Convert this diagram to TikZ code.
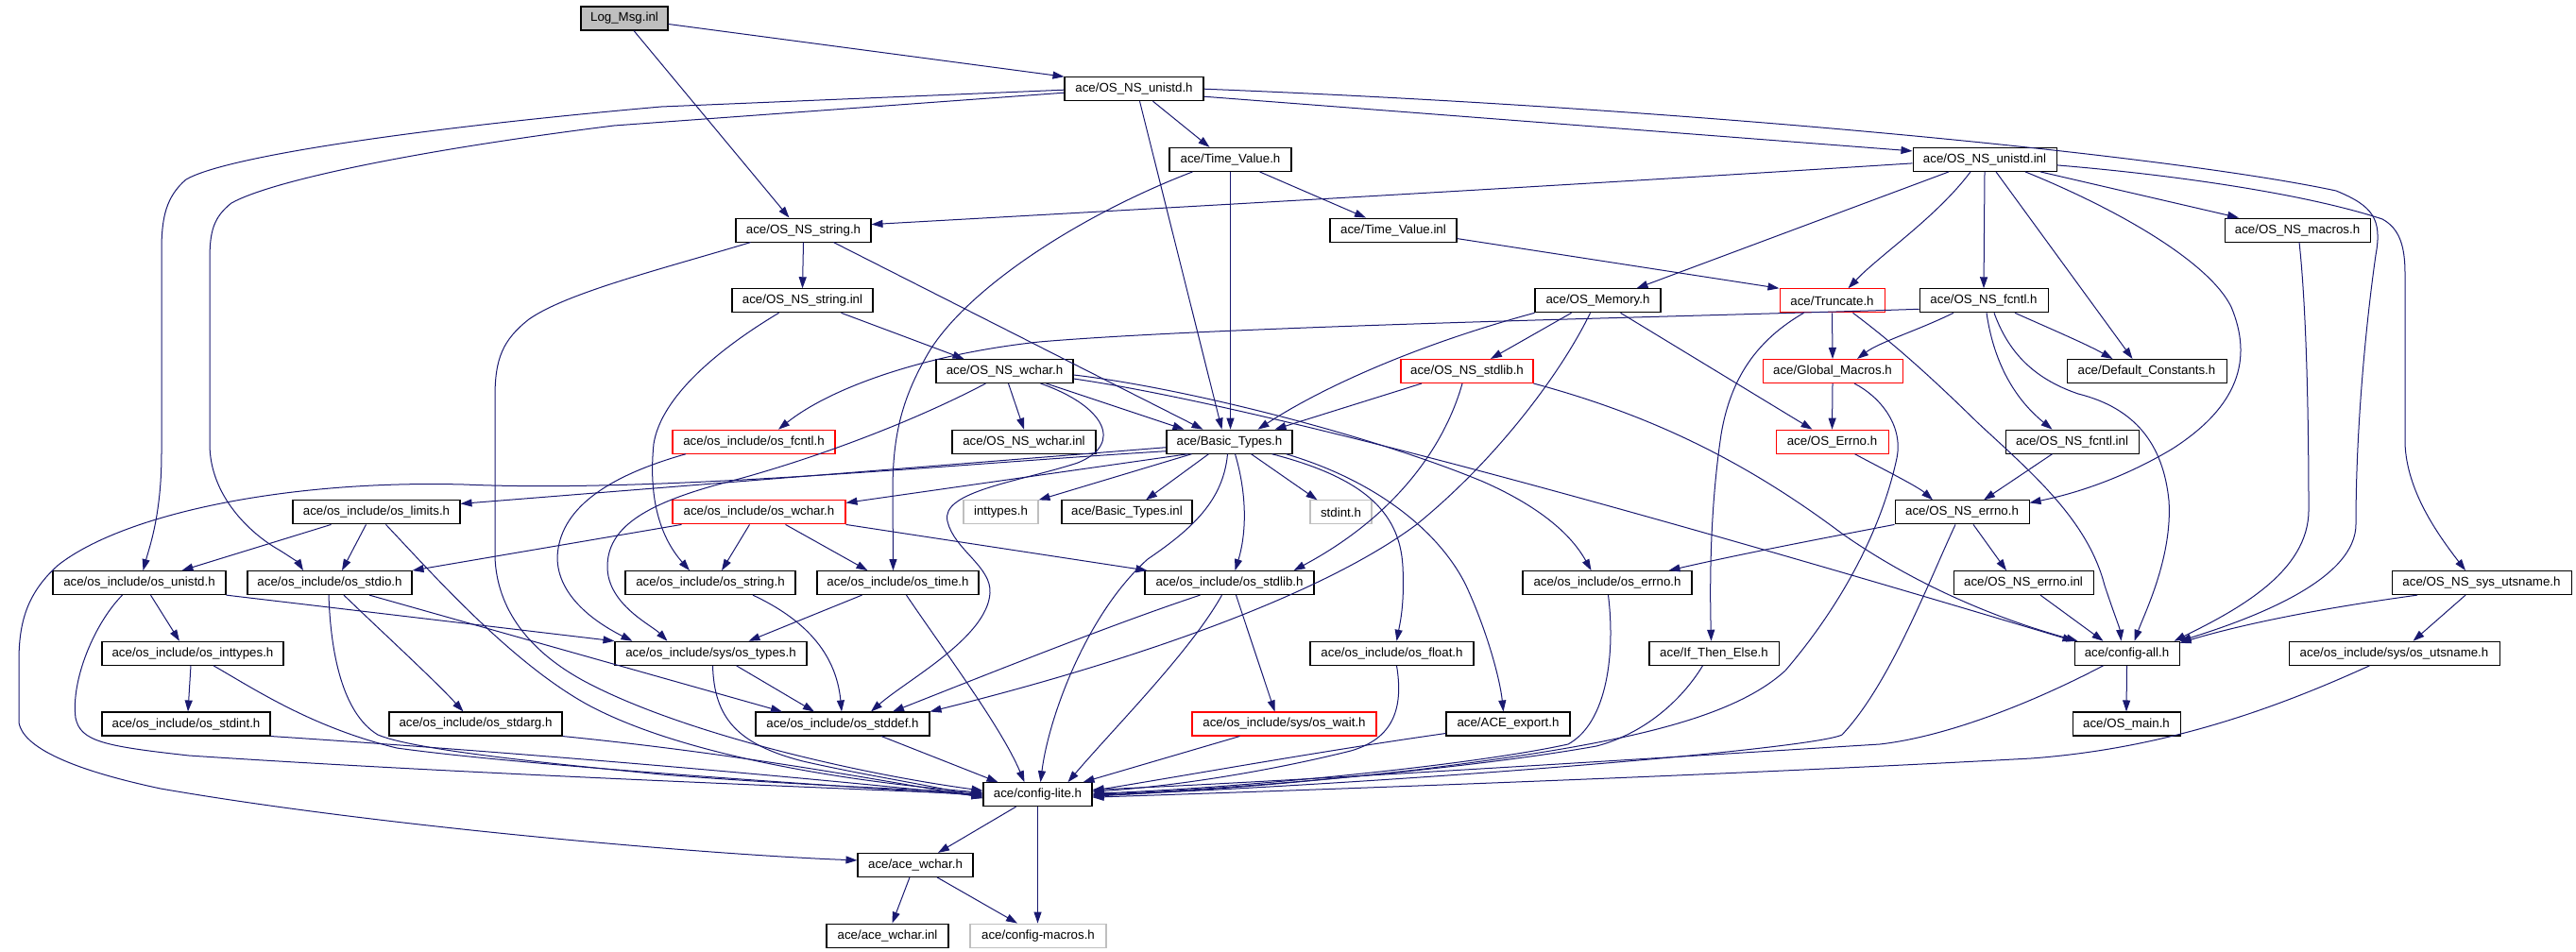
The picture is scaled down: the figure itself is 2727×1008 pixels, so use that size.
\documentclass[tikz,border=0pt]{standalone}
\usepackage{fontspec}
\setmainfont{Liberation Sans}
\usetikzlibrary{arrows.meta}
\definecolor{edgecol}{HTML}{191970}
\definecolor{lgrey}{HTML}{BFBFBF}
\tikzset{
  nb/.style={draw=black, fill=white, line width=1.05pt, minimum height=25pt, inner sep=0pt, font=\fontsize{13.3}{15}\selectfont},
  nr/.style={nb, draw=red},
  ng/.style={nb, draw=lgrey},
  edg/.style={draw=edgecol, line width=1pt, -{Triangle[length=12pt,width=8pt]}, fill=none},
}
\begin{document}
\begin{tikzpicture}[x=1pt,y=-1pt]
\useasboundingbox (0,0) rectangle (2727,1008);
% ---------------- nodes ----------------
\node[nb, fill=lgrey, minimum width=92pt] (LogMsg) at (661,19.5) {Log\_Msg.inl};
\node[nb, minimum width=147pt] (unistdH) at (1200.5,94.2) {ace/OS\_NS\_unistd.h};
\node[nb, minimum width=129pt] (TimeValueH) at (1302.5,168.9) {ace/Time\_Value.h};
\node[nb, minimum width=152pt] (unistdInl) at (2101,168.9) {ace/OS\_NS\_unistd.inl};
\node[nb, minimum width=143pt] (stringH) at (850.5,243.6) {ace/OS\_NS\_string.h};
\node[nb, minimum width=134pt] (TimeValueInl) at (1475,243.6) {ace/Time\_Value.inl};
\node[nb, minimum width=154pt] (macrosH) at (2432,243.6) {ace/OS\_NS\_macros.h};
\node[nb, minimum width=149pt] (stringInl) at (849.5,318.3) {ace/OS\_NS\_string.inl};
\node[nb, minimum width=133pt] (OSMemory) at (1691.5,318.3) {ace/OS\_Memory.h};
\node[nr, minimum width=111pt] (Truncate) at (1939.5,318.3) {ace/Truncate.h};
\node[nb, minimum width=136pt] (fcntlH) at (2100,318.3) {ace/OS\_NS\_fcntl.h};
\node[nb, minimum width=145pt] (wcharH) at (1063.5,393) {ace/OS\_NS\_wchar.h};
\node[nr, minimum width=140pt] (NSstdlib) at (1553,393) {ace/OS\_NS\_stdlib.h};
\node[nr, minimum width=148pt] (GlobalMacros) at (1940,393) {ace/Global\_Macros.h};
\node[nb, minimum width=169pt] (DefaultConst) at (2272.5,393) {ace/Default\_Constants.h};
\node[nr, minimum width=172pt] (osfcntl) at (798,467.7) {ace/os\_include/os\_fcntl.h};
\node[nb, minimum width=152pt] (wcharInl) at (1084,467.7) {ace/OS\_NS\_wchar.inl};
\node[nb, minimum width=133pt] (BasicTypes) at (1301.5,467.7) {ace/Basic\_Types.h};
\node[nr, minimum width=119pt] (OSErrno) at (1939.5,467.7) {ace/OS\_Errno.h};
\node[nb, minimum width=141pt] (fcntlInl) at (2193.5,467.7) {ace/OS\_NS\_fcntl.inl};
\node[nb, minimum width=177pt] (oslimits) at (398.5,542.4) {ace/os\_include/os\_limits.h};
\node[nr, minimum width=183pt] (oswchar) at (803.5,542.4) {ace/os\_include/os\_wchar.h};
\node[ng, minimum width=79pt] (inttypes) at (1059.5,542.4) {inttypes.h};
\node[nb, minimum width=138pt] (BasicTypesInl) at (1193,542.4) {ace/Basic\_Types.inl};
\node[ng, minimum width=65pt] (stdint) at (1419.5,542.4) {stdint.h};
\node[nb, minimum width=142pt] (NSerrno) at (2077,542.4) {ace/OS\_NS\_errno.h};
\node[nb, minimum width=183pt] (osunistd) at (147.5,617.1) {ace/os\_include/os\_unistd.h};
\node[nb, minimum width=174pt] (osstdio) at (349,617.1) {ace/os\_include/os\_stdio.h};
\node[nb, minimum width=180pt] (osstring) at (752,617.1) {ace/os\_include/os\_string.h};
\node[nb, minimum width=171pt] (ostime) at (950.5,617.1) {ace/os\_include/os\_time.h};
\node[nb, minimum width=179pt] (osstdlib) at (1301.5,617.1) {ace/os\_include/os\_stdlib.h};
\node[nb, minimum width=179pt] (oserrno) at (1701.5,617.1) {ace/os\_include/os\_errno.h};
\node[nb, minimum width=148pt] (NSerrnoInl) at (2142,617.1) {ace/OS\_NS\_errno.inl};
\node[nb, minimum width=190pt] (sysutsname) at (2627,617.1) {ace/OS\_NS\_sys\_utsname.h};
\node[nb, minimum width=192pt] (osinttypes) at (204,691.8) {ace/os\_include/os\_inttypes.h};
\node[nb, minimum width=203pt] (ostypes) at (752.5,691.8) {ace/os\_include/sys/os\_types.h};
\node[nb, minimum width=173pt] (osfloat) at (1473.5,691.8) {ace/os\_include/os\_float.h};
\node[nb, minimum width=137pt] (ifthen) at (1814.5,691.8) {ace/If\_Then\_Else.h};
\node[nb, minimum width=111pt] (configall) at (2251.5,691.8) {ace/config-all.h};
\node[nb, minimum width=223pt] (osutsname) at (2534.5,691.8) {ace/os\_include/sys/os\_utsname.h};
\node[nb, minimum width=178pt] (osstdint) at (197,766.5) {ace/os\_include/os\_stdint.h};
\node[nb, minimum width=183pt] (osstdarg) at (503.5,766.5) {ace/os\_include/os\_stdarg.h};
\node[nb, minimum width=184pt] (osstddef) at (892,766.5) {ace/os\_include/os\_stddef.h};
\node[nr, minimum width=195pt] (oswait) at (1359.5,766.5) {ace/os\_include/sys/os\_wait.h};
\node[nb, minimum width=131pt] (aceexport) at (1596.5,766.5) {ace/ACE\_export.h};
\node[nb, minimum width=114pt] (osmain) at (2251,766.5) {ace/OS\_main.h};
\node[nb, minimum width=115pt] (configlite) at (1098.5,841.2) {ace/config-lite.h};
\node[nb, minimum width=122pt] (acewchar) at (969,915.9) {ace/ace\_wchar.h};
\node[nb, minimum width=129pt] (acewcharinl) at (939.5,990.6) {ace/ace\_wchar.inl};
\node[ng, minimum width=144pt] (configmacros) at (1099,990.6) {ace/config-macros.h};
% ---------------- edges ----------------
% Log_Msg.inl
\draw[edg] ([yshift=-6]LogMsg.east) -- (unistdH.north west);
\draw[edg] ([xshift=10]LogMsg.south) -- ([xshift=-15]stringH.north);
% OS_NS_unistd.h
\draw[edg] ([xshift=20]unistdH.south) -- ([xshift=-22]TimeValueH.north);
\draw[edg] ([xshift=6]unistdH.south) -- ([xshift=-8]BasicTypes.north);
\draw[edg] ([yshift=-8]unistdH.east) -- ([yshift=9]unistdInl.west);
\draw[edg] (unistdH.east) .. controls (1800,115) and (2300,165) .. (2473,202) .. controls (2512,218) and (2522,232) .. (2515,270) .. controls (2505,340) and (2494,450) .. (2494,555) .. controls (2494,610) and (2400,650) .. (configall.north east);
\draw[edg] ([yshift=-1]unistdH.west) -- (700,113) .. controls (450,135) and (240,165) .. (197,190) .. controls (176,208) and (171,230) .. (171,265) -- (171,480) .. controls (171,545) and (158,580) .. ([xshift=4]osunistd.north);
\draw[edg] ([yshift=-4]unistdH.west) -- (650,133) .. controls (450,158) and (290,190) .. (245,215) .. controls (226,230) and (222,245) .. (222,275) -- (222,470) .. controls (222,525) and (265,565) .. (295,582) .. controls (308,590) and (316,596) .. ([xshift=-28]osstdio.north);
% OS_NS_unistd.inl
\draw[edg] ([yshift=-6]unistdInl.east) .. controls (2300,185) and (2440,205) .. (2522,232) .. controls (2540,242) and (2546,260) .. (2546,290) -- (2546,470) .. controls (2548,520) and (2580,565) .. ([xshift=-17]sysutsname.north);
\draw[edg] ([yshift=-4]unistdInl.west) .. controls (1600,200) and (1200,222) .. ([yshift=6]stringH.east);
\draw[edg] ([xshift=-38]unistdInl.south) -- ([xshift=41]OSMemory.north);
\draw[edg] ([xshift=-15]unistdInl.south) .. controls (2050,230) and (1990,270) .. ([xshift=17]Truncate.north);
\draw[edg] (unistdInl.south) -- (fcntlH.north);
\draw[edg] ([xshift=12]unistdInl.south) -- ([xshift=-15]DefaultConst.north);
\draw[edg] ([xshift=59]unistdInl.south) -- ([xshift=-62]macrosH.north);
\draw[edg] ([xshift=43]unistdInl.south) .. controls (2250,225) and (2340,280) .. (2362,325) .. controls (2385,380) and (2370,430) .. (2300,475) .. controls (2250,505) and (2200,522) .. ([yshift=10]NSerrno.east);
% Time_Value.h
\draw[edg] ([xshift=31]TimeValueH.south) -- ([xshift=-29]TimeValueInl.north);
\draw[edg] (TimeValueH.south) -- (TimeValueH.south |- BasicTypes.north);
\draw[edg] ([xshift=-40]TimeValueH.south) .. controls (1150,225) and (1030,300) .. (985,370) .. controls (955,420) and (945,460) .. (945,520) -- ([xshift=-5]ostime.north);
% Time_Value.inl
\draw[edg] ([yshift=-9]TimeValueInl.east) -- (Truncate.north west);
% OS_NS_string.h
\draw[edg] (stringH.south) -- (stringInl.north);
\draw[edg] ([xshift=32]stringH.south) -- ([xshift=-28]BasicTypes.north);
\draw[edg] ([xshift=-56]stringH.south) .. controls (700,285) and (600,310) .. (560,338) .. controls (532,360) and (524,380) .. (524,420) -- (524,590) .. controls (526,645) and (560,690) .. (620,722) .. controls (720,775) and (900,818) .. ([yshift=4]configlite.west);
% OS_NS_string.inl
\draw[edg] ([xshift=41]stringInl.south) -- ([xshift=-43]wcharH.north);
\draw[edg] ([xshift=-25]stringInl.south) .. controls (760,370) and (700,420) .. (692,470) .. controls (686,530) and (700,570) .. ([xshift=-22]osstring.north);
% OS_Memory.h
\draw[edg] ([xshift=-28]OSMemory.south) -- ([xshift=25]NSstdlib.north);
\draw[edg] ([xshift=24]OSMemory.south) -- ([xshift=-21]OSErrno.north);
\draw[edg] (OSMemory.south west) .. controls (1500,365) and (1400,410) .. ([xshift=30]BasicTypes.north);
\draw[edg] ([xshift=-8]OSMemory.south) .. controls (1650,400) and (1580,490) .. (1500,555) .. controls (1400,630) and (1200,700) .. (osstddef.north east);
% Truncate.h
\draw[edg] (Truncate.south) -- (GlobalMacros.north);
\draw[edg] ([xshift=-30]Truncate.south) .. controls (1860,360) and (1832,400) .. (1822,460) .. controls (1810,540) and (1810,620) .. ([xshift=-3]ifthen.north);
\draw[edg] ([xshift=22]Truncate.south) .. controls (2000,360) and (2040,395) .. (2093,447) .. controls (2150,500) and (2210,550) .. (2228,620) .. controls (2238,650) and (2244,665) .. ([xshift=-6]configall.north);
% OS_NS_fcntl.h
\draw[edg] ([yshift=-9]fcntlH.west) .. controls (1800,335) and (1300,345) .. (1100,362) .. controls (980,375) and (880,410) .. ([xshift=26]osfcntl.north);
\draw[edg] ([xshift=-32]fcntlH.south) .. controls (2030,350) and (1990,362) .. ([xshift=26]GlobalMacros.north);
\draw[edg] ([xshift=33]fcntlH.south) .. controls (2175,350) and (2210,365) .. ([xshift=-36]DefaultConst.north);
\draw[edg] ([xshift=3]fcntlH.south) .. controls (2110,380) and (2130,420) .. ([xshift=-21]fcntlInl.north);
\draw[edg] ([xshift=11]fcntlH.south) .. controls (2125,370) and (2150,400) .. (2200,417) .. controls (2260,432) and (2290,470) .. (2296,530) .. controls (2300,590) and (2270,650) .. ([xshift=8]configall.north);
% Global_Macros.h
\draw[edg] (GlobalMacros.south) -- (OSErrno.north);
\draw[edg] ([xshift=23]GlobalMacros.south) .. controls (1990,420) and (2015,450) .. (2008,485) .. controls (1992,560) and (1950,640) .. (1890,710) .. controls (1830,765) and (1700,790) .. (1500,815) .. controls (1350,832) and (1250,838) .. ([yshift=-2]configlite.east);
% OS_Errno.h
\draw[edg] ([xshift=24]OSErrno.south) .. controls (1990,495) and (2030,515) .. ([xshift=-31]NSerrno.north);
% OS_NS_stdlib.h
\draw[edg] ([xshift=-48]NSstdlib.south) -- ([xshift=48]BasicTypes.north);
\draw[edg] ([xshift=-5]NSstdlib.south) .. controls (1530,470) and (1480,545) .. ([xshift=68]osstdlib.north);
\draw[edg] (NSstdlib.south east) .. controls (1750,440) and (1850,490) .. (1950,565) .. controls (2050,635) and (2150,665) .. ([xshift=4]configall.north west);
% OS_NS_wchar.h
\draw[edg] ([xshift=4]wcharH.south) -- (wcharInl.north);
\draw[edg] ([xshift=44]wcharH.south) -- ([xshift=-48]BasicTypes.north);
\draw[edg] ([xshift=38]wcharH.south) .. controls (1170,430) and (1190,470) .. (1141,490) .. controls (1080,510) and (995,520) .. (1003,552) .. controls (1010,582) and (1050,600) .. (1048,628) .. controls (1045,675) and (960,720) .. ([xshift=30]osstddef.north);
\draw[edg] ([xshift=-20]wcharH.south) .. controls (960,450) and (850,490) .. (760,513) .. controls (680,535) and (643,560) .. (643,600) .. controls (643,640) and (690,662) .. ([xshift=-46]ostypes.north);
\draw[edg] ([yshift=-4]wcharH.east) .. controls (1250,410) and (1450,460) .. (1570,510) .. controls (1620,532) and (1660,560) .. ([xshift=-17]oserrno.north);
\draw[edg] ([yshift=-8]wcharH.east) .. controls (1350,432) and (1800,560) .. (configall.north west);
% Basic_Types.h
\draw[edg] ([yshift=-6]BasicTypes.west) -- ([yshift=9]oslimits.east);
\draw[edg] ([yshift=-10]BasicTypes.west) .. controls (1000,492) and (700,522) .. (491,513) .. controls (300,508) and (130,545) .. (62,598) .. controls (28,628) and (20,660) .. (20,700) -- (20,765) .. controls (25,795) and (90,818) .. (170,835) .. controls (400,875) and (750,905) .. ([yshift=5]acewchar.west);
\draw[edg] ([xshift=-44]BasicTypes.south) -- ([yshift=10]oswchar.east);
\draw[edg] ([xshift=-40]BasicTypes.south) -- (inttypes.north east);
\draw[edg] ([xshift=-22]BasicTypes.south) -- ([xshift=20]BasicTypesInl.north);
\draw[edg] ([xshift=23]BasicTypes.south) -- ([xshift=-25]stdint.north);
\draw[edg] ([xshift=6]BasicTypes.south) .. controls (1322,530) and (1318,570) .. ([xshift=6]osstdlib.north);
\draw[edg] ([xshift=45]BasicTypes.south) .. controls (1440,505) and (1482,540) .. (1485,600) .. controls (1487,640) and (1482,660) .. ([xshift=5]osfloat.north);
\draw[edg] ([xshift=60]BasicTypes.south) .. controls (1460,510) and (1525,565) .. (1552,620) .. controls (1575,670) and (1588,720) .. ([xshift=-5]aceexport.north);
\draw[edg] ([xshift=-2]BasicTypes.south) .. controls (1295,530) and (1262,560) .. (1215,592) .. controls (1150,650) and (1110,760) .. ([xshift=3]configlite.north);
% os_fcntl.h
\draw[edg] ([xshift=-72]osfcntl.south) .. controls (640,505) and (592,540) .. (590,590) .. controls (590,632) and (632,660) .. ([xshift=-83]ostypes.north);
% os_wchar.h
\draw[edg] ([xshift=-82]oswchar.south) -- (osstdio.north east);
\draw[edg] ([xshift=-10]oswchar.south) -- ([xshift=12]osstring.north);
\draw[edg] ([xshift=28]oswchar.south) -- ([xshift=-32]ostime.north);
\draw[edg] (oswchar.south east) -- ([xshift=3]osstdlib.north west);
% os_limits.h
\draw[edg] ([xshift=-48]oslimits.south) -- ([xshift=45]osunistd.north);
\draw[edg] ([xshift=-11]oslimits.south) -- ([xshift=13]osstdio.north);
\draw[edg] ([xshift=10]oslimits.south) .. controls (460,610) and (540,700) .. (620,745) .. controls (720,800) and (900,828) .. ([yshift=2]configlite.west);
% os_unistd.h
\draw[edg] ([xshift=12]osunistd.south) -- ([xshift=-14]osinttypes.north);
\draw[edg] (osunistd.south east) -- (ostypes.north west);
\draw[edg] ([xshift=-18]osunistd.south) .. controls (100,660) and (75,720) .. (80,760) .. controls (85,785) and (110,790) .. (200,800) .. controls (500,820) and (900,835) .. (configlite.west);
% os_stdio.h
\draw[edg] ([xshift=15]osstdio.south) .. controls (400,665) and (460,720) .. ([xshift=-13]osstdarg.north);
\draw[edg] ([xshift=42]osstdio.south) -- ([xshift=-64]osstddef.north);
\draw[edg] ([xshift=-1]osstdio.south) .. controls (350,690) and (362,755) .. (400,778) .. controls (440,795) and (600,810) .. (700,820) .. controls (850,832) and (980,836) .. ([yshift=1]configlite.west);
% os_inttypes.h
\draw[edg] ([xshift=-2]osinttypes.south) -- ([xshift=2]osstdint.north);
\draw[edg] ([xshift=22]osinttypes.south) .. controls (270,730) and (330,770) .. (420,792) .. controls (550,810) and (850,830) .. ([yshift=-1]configlite.west);
% os_stdint.h, os_stdarg.h
\draw[edg] (osstdint.south east) .. controls (600,800) and (900,828) .. ([yshift=-2]configlite.west);
\draw[edg] (osstdarg.south east) .. controls (800,800) and (950,830) .. ([yshift=-3]configlite.west);
% sys/os_types.h
\draw[edg] ([xshift=27]ostypes.south) -- ([xshift=-30]osstddef.north);
\draw[edg] ([xshift=2]ostypes.south) .. controls (756,760) and (780,788) .. (850,806) .. controls (920,822) and (990,832) .. ([yshift=-4]configlite.west);
% os_string.h
\draw[edg] ([xshift=45]osstring.south) .. controls (850,655) and (885,690) .. ([xshift=-1]osstddef.north);
% os_time.h
\draw[edg] ([xshift=-38]ostime.south) -- ([xshift=40]ostypes.north);
\draw[edg] ([xshift=9]ostime.south) .. controls (1000,690) and (1060,770) .. ([xshift=-14]configlite.north);
% os_stddef.h
\draw[edg] ([xshift=41]osstddef.south) -- ([xshift=-42]configlite.north);
% os_stdlib.h
\draw[edg] ([xshift=-31]osstdlib.south) .. controls (1180,660) and (1050,712) .. ([xshift=53]osstddef.north);
\draw[edg] ([xshift=7]osstdlib.south) -- ([xshift=-10]oswait.north);
\draw[edg] ([xshift=-8]osstdlib.south) .. controls (1260,690) and (1180,770) .. ([xshift=32]configlite.north);
% os_wait.h, os_float.h, ACE_export.h, os_errno.h, If_Then_Else.h
\draw[edg] ([xshift=-47]oswait.south) -- ([xshift=-10]configlite.north east);
\draw[edg] ([xshift=5]osfloat.south) .. controls (1486,750) and (1475,782) .. (1430,795) .. controls (1350,815) and (1250,832) .. ([yshift=3]configlite.east);
\draw[edg] ([yshift=-10]aceexport.west) .. controls (1400,795) and (1250,822) .. ([yshift=4]configlite.east);
\draw[edg] ([xshift=1]oserrno.south) .. controls (1710,690) and (1702,765) .. (1660,788) .. controls (1550,812) and (1300,835) .. ([yshift=1]configlite.east);
\draw[edg] ([xshift=-12]ifthen.south) .. controls (1780,742) and (1740,777) .. (1690,790) .. controls (1550,815) and (1300,836) .. (configlite.east);
% OS_NS_errno.h
\draw[edg] ([xshift=-7]NSerrno.south) .. controls (2040,620) and (2000,725) .. (1950,778) .. controls (1920,793) and (1500,828) .. ([yshift=-1]configlite.east);
\draw[edg] (NSerrno.south west) .. controls (1940,568) and (1850,585) .. ([xshift=65]oserrno.north);
\draw[edg] ([xshift=12]NSerrno.south) -- ([xshift=-18]NSerrnoInl.north);
% OS_NS_fcntl.inl, OS_NS_errno.inl, OS_NS_macros.h
\draw[edg] ([xshift=-21]fcntlInl.south) -- ([xshift=23]NSerrno.north);
\draw[edg] ([xshift=18]NSerrnoInl.south) -- ([xshift=-25]configall.north);
\draw[edg] ([xshift=2]macrosH.south) .. controls (2442,330) and (2444,450) .. (2444,540) .. controls (2444,605) and (2370,645) .. ([xshift=50]configall.north);
% OS_NS_sys_utsname.h
\draw[edg] ([xshift=-68]sysutsname.south) .. controls (2450,645) and (2370,662) .. ([yshift=-2]configall.north east);
\draw[edg] ([xshift=-17]sysutsname.south) -- ([xshift=20]osutsname.north);
% config-all.h
\draw[edg] ([xshift=-25]configall.south) .. controls (2150,745) and (2060,780) .. (1990,788) .. controls (1700,806) and (1350,828) .. ([yshift=5]configlite.east);
\draw[edg] (configall.south) -- (osmain.north);
% os_utsname.h
\draw[edg] ([xshift=-26]osutsname.south) .. controls (2420,745) and (2300,792) .. (2150,803) .. controls (1800,822) and (1400,836) .. ([yshift=-3]configlite.east);
% config-lite.h
\draw[edg] ([xshift=-23]configlite.south) -- ([xshift=24]acewchar.north);
\draw[edg] (configlite.south) -- (configlite.south |- configmacros.north);
% ace_wchar.h
\draw[edg] ([xshift=-6]acewchar.south) -- ([xshift=5]acewcharinl.north);
\draw[edg] ([xshift=23]acewchar.south) -- ([xshift=-22]configmacros.north);
\end{tikzpicture}
\end{document}
